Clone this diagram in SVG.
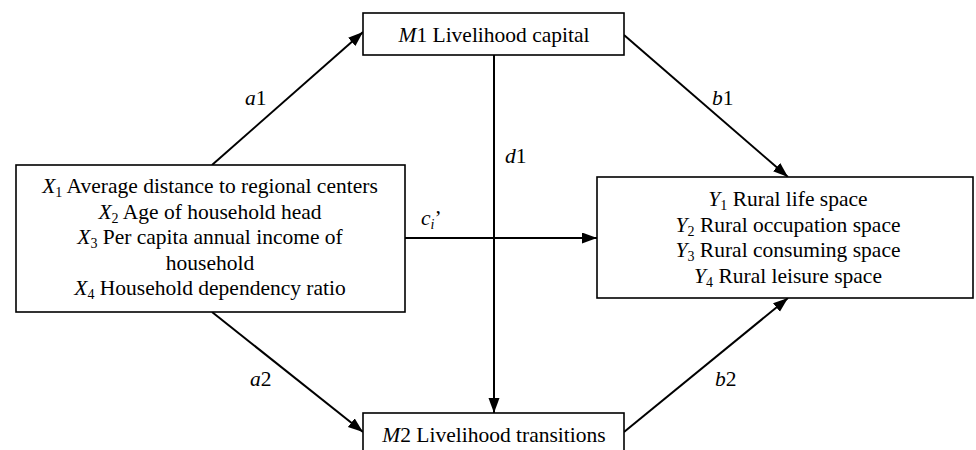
<svg xmlns="http://www.w3.org/2000/svg" width="976" height="450" viewBox="0 0 976 450">
  <defs>
    <marker id="arr" markerUnits="userSpaceOnUse" markerWidth="16" markerHeight="12" refX="15" refY="5.5" orient="auto">
      <path d="M0,0 L15,5.5 L0,11 z" fill="#000"/>
    </marker>
    <style>
      .box { fill: #fff; stroke: #000; stroke-width: 1.6; }
      .t { font-size: 21.5px; fill: #000; text-anchor: middle; }
      .lbl { font-size: 21.5px; fill: #000; }
      .i { font-style: italic; }
      .sub { font-size: 14px; }
      .edge { stroke: #000; stroke-width: 2; fill: none; marker-end: url(#arr); }
    </style>
  </defs>
  <rect width="976" height="450" fill="#fff"/>
  <g font-family="'Liberation Serif', 'DejaVu Serif', 'Times New Roman', serif">

  <g id="connectors">
    <line class="edge" x1="212" y1="165" x2="363" y2="32"/>
    <line class="edge" x1="624" y1="35" x2="788" y2="177"/>
    <line class="edge" x1="494" y1="55" x2="494" y2="413"/>
    <line class="edge" x1="405" y1="238" x2="597" y2="238"/>
    <line class="edge" x1="212" y1="312" x2="363" y2="432"/>
    <line class="edge" x1="624" y1="432" x2="788" y2="298"/>
    <text class="lbl" x="245" y="105"><tspan class="i">a</tspan>1</text>
    <text class="lbl" x="712" y="105"><tspan class="i">b</tspan>1</text>
    <text class="lbl" x="505" y="163"><tspan class="i">d</tspan>1</text>
    <text class="lbl" x="421" y="225"><tspan class="i">c</tspan><tspan class="i sub" dy="4">i</tspan><tspan dy="-4">’</tspan></text>
    <text class="lbl" x="250" y="386"><tspan class="i">a</tspan>2</text>
    <text class="lbl" x="715" y="386"><tspan class="i">b</tspan>2</text>
  </g>

  <g id="node-x">
    <rect class="box" x="16" y="165" width="389" height="147"/>
    <text class="t" x="210" y="193"><tspan class="i">X</tspan><tspan class="sub" dy="4">1</tspan><tspan dy="-4"> Average distance to regional centers</tspan></text>
    <text class="t" x="210" y="218.5"><tspan class="i">X</tspan><tspan class="sub" dy="4">2</tspan><tspan dy="-4"> Age of household head</tspan></text>
    <text class="t" x="210" y="244"><tspan class="i">X</tspan><tspan class="sub" dy="4">3</tspan><tspan dy="-4"> Per capita annual income of</tspan></text>
    <text class="t" x="210" y="269.5">household</text>
    <text class="t" x="210" y="295"><tspan class="i">X</tspan><tspan class="sub" dy="4">4</tspan><tspan dy="-4"> Household dependency ratio</tspan></text>
  </g>

  <g id="node-m1">
    <rect class="box" x="363" y="13" width="261" height="42"/>
    <text class="t" x="494" y="42"><tspan class="i">M</tspan>1 Livelihood capital</text>
  </g>

  <g id="node-y">
    <rect class="box" x="597" y="177" width="376" height="121"/>
    <text class="t" x="788" y="206"><tspan class="i">Y</tspan><tspan class="sub" dy="4">1</tspan><tspan dy="-4"> Rural life space</tspan></text>
    <text class="t" x="788" y="231.5"><tspan class="i">Y</tspan><tspan class="sub" dy="4">2</tspan><tspan dy="-4"> Rural occupation space</tspan></text>
    <text class="t" x="788" y="257"><tspan class="i">Y</tspan><tspan class="sub" dy="4">3</tspan><tspan dy="-4"> Rural consuming space</tspan></text>
    <text class="t" x="788" y="282.5"><tspan class="i">Y</tspan><tspan class="sub" dy="4">4</tspan><tspan dy="-4"> Rural leisure space</tspan></text>
  </g>

  <g id="node-m2">
    <rect class="box" x="363" y="413" width="261" height="50"/>
    <text class="t" x="494" y="442"><tspan class="i">M</tspan>2 Livelihood transitions</text>
  </g>
  </g>
</svg>
